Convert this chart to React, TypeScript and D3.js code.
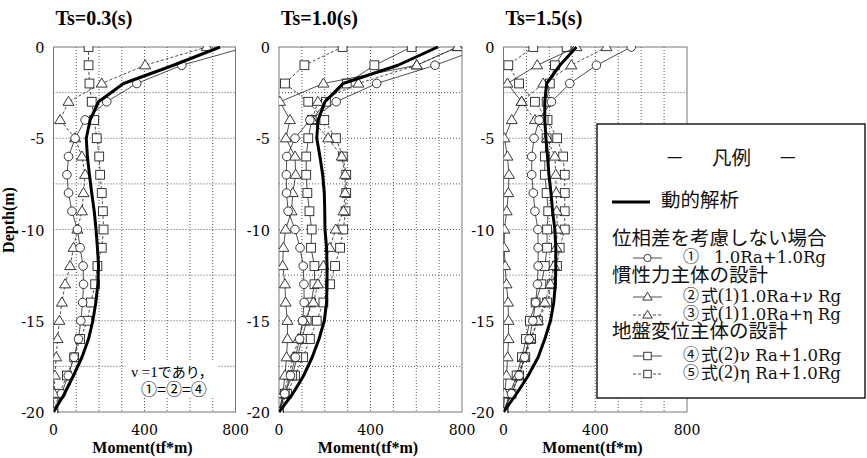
import React from 'react';
import * as d3 from 'd3';

// depth of each output point (m)
const depths = [0, -1, -2, -3, -4, -5, -6, -7, -8, -9, -10, -11, -12, -13, -14, -15, -16, -17, -18, -19, -20];

// Ts=0.3(s)  (nu=1 so case2 and case4 coincide with case1)
const ts03Dyn = [732, 527, 308, 198, 161, 144, 149, 158, 168, 179, 187, 193, 198, 195, 186, 173, 154, 125, 88, 48, 0];
const ts03C1 = [850, 564, 366, 234, 139, 95, 66, 59, 66, 81, 105, 117, 130, 132, 128, 120, 110, 90, 65, 35, 0];
const ts03C3 = [674, 403, 212, 66, 29, 95, 125, 139, 132, 125, 105, 88, 73, 51, 37, 26, 18, 12, 6, 3, 0];
const ts03C5 = [154, 154, 158, 168, 179, 190, 201, 205, 212, 217, 220, 212, 193, 183, 164, 149, 117, 91, 59, 26, 0];

// Ts=1.0(s)
const ts10Dyn = [695, 520, 280, 201, 171, 165, 179, 191, 198, 200, 201, 208, 210, 210, 208, 198, 175, 145, 108, 60, 0];
const ts10C1 = [900, 682, 427, 250, 135, 70, 34, 32, 33, 40, 70, 92, 106, 109, 110, 103, 90, 72, 50, 25, 0];
const ts10C2 = [781, 602, 194, 4, 48, 30, 70, 73, 60, 55, 29, 19, 16, 26, 29, 37, 37, 33, 26, 17, 0];
const ts10C3 = [781, 602, 347, 170, 144, 215, 274, 289, 289, 282, 248, 222, 194, 170, 150, 110, 85, 62, 42, 20, 0];
const ts10C4 = [580, 417, 296, 205, 143, 128, 119, 119, 124, 133, 143, 140, 155, 155, 140, 121, 100, 80, 58, 25, 0];
const ts10C5 = [278, 111, 26, 128, 198, 249, 279, 294, 294, 291, 281, 267, 245, 223, 194, 165, 135, 105, 70, 35, 0];

// Ts=1.5(s)
const ts15Dyn = [318, 246, 188, 180, 180, 185, 192, 198, 207, 214, 224, 228, 228, 226, 219, 205, 180, 151, 108, 57, 0];
const ts15C1 = [557, 405, 289, 209, 155, 133, 123, 123, 130, 137, 150, 151, 151, 148, 140, 128, 112, 92, 68, 35, 0];
const ts15C2 = [318, 147, 17, 79, 36, 4, 17, 24, 21, 14, 4, 3, 7, 13, 20, 22, 22, 18, 13, 5, 0];
const ts15C3 = [449, 296, 173, 79, 137, 190, 224, 228, 230, 232, 235, 230, 220, 205, 180, 150, 118, 90, 62, 30, 0];
const ts15C4 = [275, 224, 202, 188, 175, 188, 180, 180, 188, 195, 190, 190, 180, 165, 140, 115, 98, 80, 57, 28, 0];
const ts15C5 = [130, 21, 68, 137, 192, 234, 260, 267, 267, 267, 267, 245, 233, 210, 190, 150, 120, 95, 68, 35, 0];

const titles = ['Ts=0.3(s)', 'Ts=1.0(s)', 'Ts=1.5(s)'];
const xTickLabels = [0, 400, 800];
const yTickLabels = [0, -5, -10, -15, -20];
const xGrid = [100, 200, 300, 400, 500, 600, 700];
const yGrid = [-2.5, -5, -7.5, -10, -12.5, -15, -17.5];

const legendHead = ['位相差を考慮しない場合', '慣性力主体の設計', '地盤変位主体の設計'];
const caseNo = ['①', '②', '③', '④', '⑤'];
const caseEq = ['', '(1)', '(1)', '(2)', '(2)'];
const caseFormula = ['1.0Ra+1.0Rg', '1.0Ra+ν Rg', '1.0Ra+η Rg', 'ν Ra+1.0Rg', 'η Ra+1.0Rg'];
// marker / dash of each case
const caseMarker = ['circle', 'triangle', 'triangle', 'square', 'square'];
const caseDashed = [false, false, true, false, true];

const panels = [
    { title: titles[0], x0: 53.5, x1: 235.5, dyn: ts03Dyn, cases: [ts03C1, null, ts03C3, null, ts03C5] },
    { title: titles[1], x0: 279, x1: 462, dyn: ts10Dyn, cases: [ts10C1, ts10C2, ts10C3, ts10C4, ts10C5] },
    { title: titles[2], x0: 503.5, x1: 687, dyn: ts15Dyn, cases: [ts15C1, ts15C2, ts15C3, ts15C4, ts15C5] },
];

const top = 47;
const bottom = 412;
const ink = '#222';
const serif = "'Liberation Serif', 'Times New Roman', serif";
const jp = "'Noto Sans CJK JP', sans-serif";
const wide = "'DejaVu Serif', serif";

function Marker({ type, x, y, s = 1 }: { type: string; x: number; y: number; s?: number }) {
    const st = { fill: '#fff', stroke: ink, strokeWidth: 0.9 };
    if (type === 'circle') return <circle cx={x} cy={y} r={4.3 * s} {...st} />;
    if (type === 'square') {
        const h = 4.4 * s;
        return <rect x={x - h} y={y - h} width={2 * h} height={2 * h} {...st} />;
    }
    const p = `M${x},${y - 5.5 * s}L${x + 5.5 * s},${y + 3.6 * s}L${x - 5.5 * s},${y + 3.6 * s}Z`;
    return <path d={p} {...st} />;
}

function Panel({ p, idx }: { p: any; idx: number }) {
    const x = d3.scaleLinear().domain([0, 800]).range([p.x0, p.x1]);
    const y = d3.scaleLinear().domain([0, -20]).range([top, bottom]);
    const line = d3
        .line<number>()
        .x((d) => x(d))
        .y((d, i) => y(depths[i]));
    const clipId = 'clip' + idx;
    return (
        <g>
            <defs>
                <clipPath id={clipId}>
                    <rect x={x(0)} y={top - 1} width={x(800) - x(0)} height={bottom - top + 2} />
                </clipPath>
            </defs>
            <text x={p.x0 + 2} y={25} fontFamily={serif} fontWeight="bold" fontSize={20}>
                {p.title}
            </text>
            {xGrid.map((v) => (
                <line key={'gx' + v} x1={x(v)} x2={x(v)} y1={top} y2={bottom} stroke="#444" strokeWidth={0.9} strokeDasharray="1,2" />
            ))}
            {yGrid.map((v) => (
                <line key={'gy' + v} x1={x(0)} x2={x(800)} y1={y(v)} y2={y(v)} stroke="#444" strokeWidth={0.9} strokeDasharray="1,2" />
            ))}
            <rect x={x(0)} y={top} width={x(800) - x(0)} height={bottom - top} fill="none" stroke="#777" strokeWidth={1} />
            {yTickLabels.map((v) => (
                <text key={'ty' + v} x={x(0) - 9} y={y(v) + 2} textAnchor="end" dominantBaseline="middle" fontFamily={wide} fontSize={14.5}>
                    {v}
                </text>
            ))}
            {xTickLabels.map((v) => (
                <text key={'tx' + v} x={x(v)} y={435} textAnchor="middle" fontFamily={wide} fontSize={14}>
                    {v}
                </text>
            ))}
            <text x={p.x0 + 89} y={453} textAnchor="middle" fontFamily={serif} fontWeight="bold" fontSize={16}>
                Moment(tf*m)
            </text>
            <g clipPath={`url(#${clipId})`}>
                {[4, 3, 2, 1, 0].map((k) => {
                    const data = p.cases[k];
                    if (!data) return null;
                    return (
                        <g key={'s' + k}>
                            <path d={line(data) || ''} fill="none" stroke={ink} strokeWidth={0.8} strokeDasharray={caseDashed[k] ? '3,2' : undefined} />
                            {data.map((v: number, i: number) => (
                                <Marker key={i} type={caseMarker[k]} x={x(v)} y={y(depths[i])} />
                            ))}
                        </g>
                    );
                })}
                <path d={line(p.dyn) || ''} fill="none" stroke="#000" strokeWidth={3} strokeLinejoin="round" />
            </g>
        </g>
    );
}

function Legend() {
    const rows = [258, 297, 315, 356, 374];
    const heads = [240, 277, 333];
    return (
        <g fontFamily={jp} fontSize={19.5} fill="#111">
            <rect x={597} y={124} width={268} height={274} fill="#fff" stroke="#111" strokeWidth={1.4} />
            <text y={160} dominantBaseline="middle">
                <tspan x={665}>－</tspan>
                <tspan x={712}>凡例</tspan>
                <tspan x={778}>－</tspan>
            </text>
            <line x1={612} x2={650} y1={202} y2={202} stroke="#000" strokeWidth={3} />
            <text x={661} y={202} dominantBaseline="middle">動的解析</text>
            {legendHead.map((t, i) => (
                <text key={t} x={612} y={heads[i]} dominantBaseline="middle">
                    {t}
                </text>
            ))}
            {caseNo.map((n, k) => (
                <g key={n}>
                    <line x1={633} x2={662} y1={rows[k]} y2={rows[k]} stroke={ink} strokeWidth={0.8} strokeDasharray={caseDashed[k] ? '3,2' : undefined} />
                    <Marker type={caseMarker[k]} x={647.5} y={rows[k]} s={0.85} />
                    <text y={rows[k]} dominantBaseline="middle" fontSize={16}>
                        <tspan x={683}>{n}</tspan>
                        {caseEq[k] && (
                            <tspan x={701} fontSize={17}>
                                式
                            </tspan>
                        )}
                        {caseEq[k] && (
                            <tspan fontFamily={serif} fontSize={18}>
                                {caseEq[k]}
                            </tspan>
                        )}
                        <tspan x={k === 0 ? 714 : 740} fontFamily={wide} fontSize={16.5}>
                            {caseFormula[k]}
                        </tspan>
                    </text>
                </g>
            ))}
        </g>
    );
}

export default function App() {
    return (
        <svg width={867} height={458} style={{ position: 'absolute', left: 0, top: 0, background: '#fff' }}>
            <rect width={867} height={458} fill="#fff" />
            {panels.map((p, i) => (
                <Panel key={p.title} p={p} idx={i} />
            ))}
            <text transform="translate(14,220) rotate(-90)" textAnchor="middle" fontFamily={serif} fontWeight="bold" fontSize={16}>
                Depth(m)
            </text>
            {/* note in the first panel */}
            <rect x={126} y={362} width={92} height={36} fill="#fff" />
            <text x={172} y={377} textAnchor="middle" fontFamily={jp} fontSize={14}>
                <tspan fontFamily={serif} fontSize={15}>ν =1</tspan>であり，
            </text>
            <text x={174} y={395} textAnchor="middle" fontFamily={jp} fontSize={16}>
                ①=②=④
            </text>
            <Legend />
        </svg>
    );
}
